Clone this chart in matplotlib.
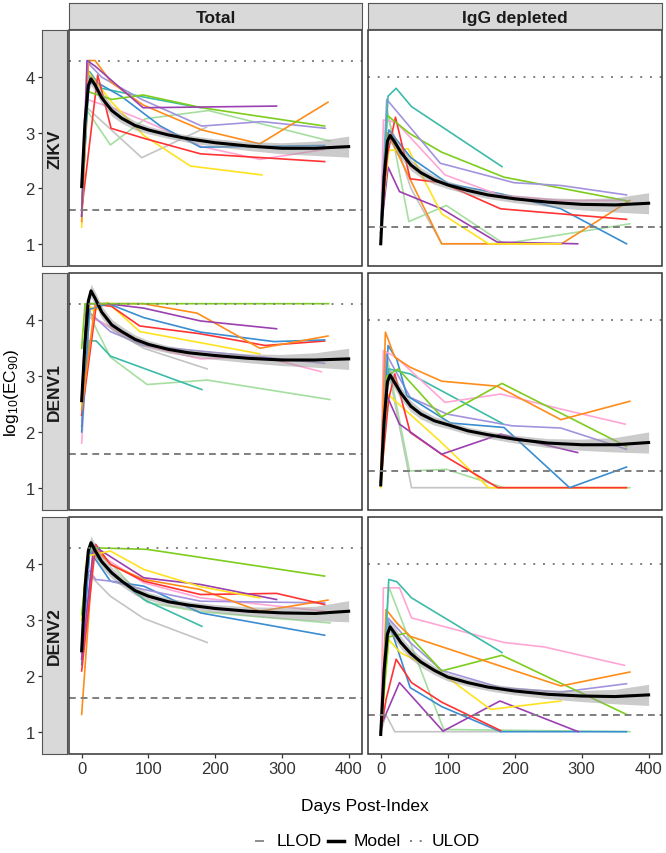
import numpy as np
import matplotlib
matplotlib.use('Agg')
from matplotlib import pyplot as plt
from matplotlib.patches import Rectangle
from matplotlib.lines import Line2D

plt.rcParams['font.family'] = ['Liberation Sans', 'DejaVu Sans']
plt.rcParams['mathtext.default'] = 'regular'

RED = '#FF3333'
BLUE = '#3A8DD0'
GREEN = '#7CCD1C'
PURPLE = '#9A40B0'
ORANGE = '#FF8C1A'
YELLOW = '#FFE21F'
PINK = '#FFA6D5'
GREY = '#C4C4C4'
TEAL = '#3CBBA8'
LTGREEN = '#A6DEA0'
LAVENDER = '#A293DE'

# (colour, days, log10 EC90) per subject
zikv_total = [
    (GREY, [0, 8, 90, 187], [1.5, 3.45, 2.55, 3.1]),
    (LTGREEN, [0, 8, 43, 95, 190, 372], [1.5, 3.4, 2.78, 3.25, 3.4, 2.85]),
    (PINK, [0, 8, 45, 93, 180, 267, 364], [1.6, 3.6, 3.45, 3.22, 2.75, 2.52, 2.7]),
    (TEAL, [0, 12, 30, 90, 178], [1.7, 4.1, 3.8, 3.65, 3.45]),
    (BLUE, [0, 10, 28, 60, 118, 178, 364], [1.6, 3.9, 3.87, 3.65, 3.12, 2.74, 2.77]),
    (YELLOW, [0, 9, 45, 93, 163, 270], [1.3, 4.1, 3.55, 2.95, 2.4, 2.24]),
    (RED, [0, 24, 44, 93, 178, 364], [1.6, 4.04, 3.08, 2.9, 2.62, 2.48]),
    (LAVENDER, [0, 10, 30, 90, 180, 270, 365], [1.5, 4.25, 4.0, 3.6, 3.12, 3.2, 3.08]),
    (ORANGE, [0, 10, 20, 45, 92, 180, 267, 369], [1.4, 4.3, 4.3, 3.9, 3.5, 3.05, 2.8, 3.55]),
    (GREEN, [0, 7, 45, 92, 180, 364], [1.5, 3.75, 3.6, 3.68, 3.45, 3.12]),
    (PURPLE, [0, 8, 20, 92, 292], [1.5, 4.3, 4.2, 3.45, 3.48]),
]

zikv_depl = [
    (GREY, [0, 10, 45, 91, 180], [1.2, 3.3, 2.0, 1.0, 1.0]),
    (LTGREEN, [0, 10, 42, 98, 184, 372], [1.2, 3.4, 1.4, 1.69, 1.0, 1.36]),
    (ORANGE, [0, 10, 91, 270, 372], [1.3, 3.0, 1.0, 1.0, 1.78]),
    (PURPLE, [0, 11, 28, 91, 174, 294], [1.2, 2.38, 1.94, 1.63, 1.03, 1.0]),
    (YELLOW, [0, 12, 41, 91, 161, 269], [1.3, 2.68, 2.71, 1.54, 1.0, 1.0]),
    (BLUE, [0, 12, 45, 101, 179, 269, 367], [1.2, 3.05, 2.55, 2.08, 1.9, 1.63, 1.0]),
    (PINK, [0, 4, 23, 96, 179, 269, 365], [1.3, 3.23, 3.19, 2.24, 1.87, 1.78, 1.78]),
    (RED, [0, 10, 22, 44, 91, 179, 367], [1.3, 2.6, 3.28, 2.17, 2.1, 1.63, 1.44]),
    (GREEN, [0, 9, 44, 91, 184, 369], [1.2, 3.32, 2.98, 2.65, 2.2, 1.77]),
    (LAVENDER, [0, 9, 89, 199, 269, 367], [1.3, 3.6, 2.45, 2.1, 2.05, 1.88]),
    (TEAL, [0, 11, 23, 46, 181], [1.3, 3.66, 3.8, 3.47, 2.39]),
]

denv1_total = [
    (GREY, [0, 11, 45, 93, 188], [2.2, 4.1, 3.85, 3.5, 3.13]),
    (LTGREEN, [0, 8, 23, 43, 98, 188, 372], [2.4, 4.2, 3.82, 3.34, 2.85, 2.93, 2.58]),
    (TEAL, [0, 11, 22, 43, 180], [2.3, 3.64, 3.63, 3.36, 2.76]),
    (PINK, [0, 11, 30, 93, 178, 270, 359], [1.8, 4.06, 3.97, 3.55, 3.31, 3.35, 3.08]),
    (LAVENDER, [0, 11, 43, 93, 178, 364], [2.1, 4.15, 3.8, 3.55, 3.45, 3.23]),
    (YELLOW, [0, 13, 18, 39, 87, 178, 267], [2.5, 4.25, 4.17, 4.32, 3.8, 3.6, 3.4]),
    (RED, [0, 22, 45, 87, 178, 275, 364], [2.3, 4.29, 4.25, 3.9, 3.76, 3.55, 3.63]),
    (BLUE, [0, 12, 40, 93, 178, 288, 364], [2.0, 4.2, 4.3, 4.05, 3.79, 3.62, 3.65]),
    (ORANGE, [0, 20, 92, 173, 267, 369], [2.4, 4.3, 4.3, 4.13, 3.5, 3.72]),
    (PURPLE, [0, 7, 38, 93, 178, 292], [2.6, 4.3, 4.3, 4.22, 3.99, 3.85]),
    (GREEN, [0, 5, 45, 90, 180, 270, 370], [3.5, 4.3, 4.3, 4.3, 4.3, 4.3, 4.3]),
]

denv1_depl = [
    (GREY, [0, 10, 46, 184], [1.1, 3.2, 1.0, 1.0]),
    (LTGREEN, [0, 10, 43, 98, 184, 372], [1.1, 3.3, 1.3, 1.33, 1.0, 1.0]),
    (YELLOW, [0, 11, 88, 161, 269, 367], [1.0, 2.67, 1.84, 1.0, 1.0, 1.0]),
    (RED, [0, 12, 21, 44, 91, 175, 269, 367], [1.1, 2.6, 3.04, 1.99, 1.6, 1.0, 1.0, 1.0]),
    (PURPLE, [0, 7, 28, 91, 179, 294], [1.1, 2.71, 2.14, 1.6, 1.96, 1.63]),
    (LAVENDER, [0, 8, 44, 99, 196, 269, 367], [1.1, 3.4, 2.62, 2.32, 2.11, 2.07, 1.69]),
    (TEAL, [0, 12, 44, 182], [1.1, 3.13, 3.04, 2.15]),
    (BLUE, [0, 11, 24, 39, 104, 184, 282, 367], [1.1, 3.55, 3.3, 2.65, 2.16, 2.08, 1.0, 1.37]),
    (PINK, [0, 4, 22, 96, 179, 269, 365], [1.1, 3.46, 3.35, 2.53, 2.68, 2.41, 2.14]),
    (GREEN, [0, 9, 26, 91, 181, 367], [1.1, 3.0, 3.13, 2.27, 2.87, 1.74]),
    (ORANGE, [0, 7, 21, 44, 91, 174, 269, 372], [1.1, 3.79, 3.34, 3.16, 2.91, 2.82, 2.22, 2.55]),
]

denv2_total = [
    (GREY, [0, 6, 43, 93, 188], [2.5, 3.88, 3.43, 3.03, 2.6]),
    (LTGREEN, [0, 12, 43, 98, 178, 372], [2.5, 4.3, 4.03, 3.32, 3.15, 2.95]),
    (TEAL, [0, 12, 43, 93, 180], [2.4, 4.27, 3.85, 3.37, 2.89]),
    (BLUE, [0, 12, 43, 93, 178, 364], [2.2, 4.24, 3.7, 3.61, 3.13, 2.73]),
    (PINK, [0, 18, 93, 178, 364], [2.4, 4.24, 3.67, 3.4, 3.16]),
    (LAVENDER, [0, 6, 21, 43, 93, 178, 364], [2.3, 3.97, 3.73, 3.7, 3.55, 3.34, 3.31]),
    (ORANGE, [0, 18, 43, 93, 178, 267, 369], [1.31, 4.33, 4.0, 3.73, 3.55, 3.16, 3.36]),
    (RED, [0, 21, 43, 93, 178, 292, 364], [2.09, 4.36, 4.0, 3.7, 3.46, 3.48, 3.28]),
    (PURPLE, [0, 18, 93, 178, 292], [2.3, 4.33, 3.76, 3.64, 3.37]),
    (YELLOW, [0, 8, 43, 93, 178, 267], [3.0, 4.15, 4.24, 3.91, 3.6, 3.4]),
    (GREEN, [0, 11, 98, 364], [3.1, 4.3, 4.27, 3.79]),
]

denv2_depl = [
    (GREY, [0, 8, 21, 179], [1.0, 1.3, 1.0, 1.0]),
    (LTGREEN, [0, 12, 94, 372], [1.0, 3.6, 1.04, 1.0]),
    (BLUE, [0, 11, 44, 91, 179, 367], [1.0, 3.0, 1.79, 1.45, 1.0, 1.0]),
    (PURPLE, [0, 28, 93, 178, 295], [1.1, 1.88, 1.01, 1.55, 1.0]),
    (RED, [0, 8, 23, 46, 91, 179], [1.0, 1.58, 2.3, 1.88, 1.53, 1.02]),
    (YELLOW, [0, 12, 29, 91, 164, 269], [1.0, 2.65, 2.42, 2.05, 1.4, 1.55]),
    (LAVENDER, [0, 11, 44, 91, 179, 269, 367], [1.0, 3.04, 2.6, 2.1, 1.79, 1.71, 1.86]),
    (GREEN, [0, 12, 24, 39, 91, 181, 367], [1.0, 2.7, 2.73, 2.77, 2.09, 2.37, 1.31]),
    (ORANGE, [0, 8, 24, 44, 269, 372], [1.0, 3.19, 2.95, 2.71, 1.82, 2.07]),
    (PINK, [0, 4, 28, 46, 184, 244, 364], [1.0, 3.58, 3.58, 3.04, 2.6, 2.52, 2.19]),
    (TEAL, [0, 12, 24, 46, 181], [1.0, 3.73, 3.69, 3.4, 2.42]),
]

# model fit + confidence band
model_days = [0, 5, 10, 14, 20, 30, 45, 60, 80, 100, 130, 160, 200, 250, 300, 350, 400]
zikv_total_fit = [2.03, 3.2, 3.85, 3.97, 3.86, 3.63, 3.4, 3.26, 3.13, 3.05, 2.96, 2.89, 2.82, 2.76, 2.72, 2.72, 2.75]
zikv_depl_fit = [1.0, 2.2, 2.85, 2.95, 2.85, 2.65, 2.42, 2.28, 2.15, 2.06, 1.96, 1.88, 1.81, 1.75, 1.71, 1.70, 1.73]
denv1_total_fit = [2.56, 3.6, 4.35, 4.53, 4.4, 4.15, 3.92, 3.8, 3.66, 3.57, 3.48, 3.42, 3.37, 3.32, 3.29, 3.29, 3.31]
denv1_depl_fit = [1.05, 2.2, 2.9, 3.02, 2.9, 2.7, 2.46, 2.32, 2.2, 2.13, 2.02, 1.95, 1.87, 1.8, 1.77, 1.77, 1.81]
denv2_total_fit = [2.45, 3.6, 4.25, 4.39, 4.25, 4.05, 3.85, 3.7, 3.53, 3.43, 3.33, 3.27, 3.21, 3.16, 3.13, 3.12, 3.16]
denv2_depl_fit = [0.95, 2.1, 2.75, 2.88, 2.78, 2.6, 2.4, 2.25, 2.1, 1.98, 1.88, 1.8, 1.73, 1.67, 1.64, 1.63, 1.66]
band_half = [0.0, 0.06, 0.1, 0.12, 0.12, 0.11, 0.1, 0.09, 0.08, 0.07, 0.065, 0.065, 0.07, 0.08, 0.1, 0.13, 0.19]

viruses = ['ZIKV', 'DENV1', 'DENV2']
sample_types = ['Total', 'IgG depleted']
ulod = [4.3, 4.0]
llod = [1.6, 1.3]
panel_lines = [[zikv_total, zikv_depl], [denv1_total, denv1_depl], [denv2_total, denv2_depl]]
panel_fits = [[zikv_total_fit, zikv_depl_fit], [denv1_total_fit, denv1_depl_fit], [denv2_total_fit, denv2_depl_fit]]

W, H = 666, 854
cols = [(69, 362), (368, 662)]
rows = [(31, 267), (274, 511), (518, 755)]
EDGE = '#333333'
REF = '#7F7F7F'


def box(x0, y0, x1, y1):
    return [x0 / W, 1 - y1 / H, (x1 - x0) / W, (y1 - y0) / H]


fig = plt.figure(figsize=(W / 100, H / 100), dpi=100)

for r in range(3):
    for c in range(2):
        ax = fig.add_axes(box(cols[c][0], rows[r][0], cols[c][1], rows[r][1]))
        for color, d, v in panel_lines[r][c]:
            ax.plot(d, v, color=color, lw=1.2, zorder=2, solid_joinstyle='round')
        fit = np.array(panel_fits[r][c])
        half = np.array(band_half)
        ax.fill_between(model_days, fit - half, fit + half, color='#999999', alpha=0.5, lw=0, zorder=3)
        ax.plot(model_days, fit, color='black', lw=2.2, zorder=4)
        ax.axhline(ulod[c], color=REF, lw=1.4, ls=(0, (1, 4)), zorder=5)
        ax.axhline(llod[c], color=REF, lw=1.4, ls=(0, (3.5, 2.5)), zorder=5)
        ax.set_xlim(-19, 420)
        ax.set_ylim(0.6, 4.85)
        ax.set_xticks([0, 100, 200, 300, 400])
        ax.set_yticks([1, 2, 3, 4])
        for sp in ax.spines.values():
            sp.set_color('none')
        ax.spines['left'].set_position(('outward', 19.5))
        ax.add_patch(Rectangle((0, 0), 1, 1, transform=ax.transAxes, fill=False,
                               ec=EDGE, lw=1.1, zorder=10, clip_on=False))
        ax.tick_params(axis='both', length=3, width=0.9, color=EDGE,
                       labelsize=12, labelcolor='#333333', pad=2)
        if c > 0:
            ax.tick_params(axis='y', left=False, labelleft=False)
        if r < 2:
            ax.tick_params(axis='x', bottom=False, labelbottom=False)

        # strips
        if r == 0:
            sax = fig.add_axes(box(cols[c][0], 4, cols[c][1], 30))
            sax.set_facecolor('#D9D9D9')
            sax.set_xticks([])
            sax.set_yticks([])
            for sp in sax.spines.values():
                sp.set_color('#555555')
            sax.text(0.5, 0.45, sample_types[c], transform=sax.transAxes, ha='center', va='center',
                     fontsize=12.5, fontweight='bold', color='#1a1a1a')
        if c == 0:
            sax = fig.add_axes(box(42, rows[r][0], 67, rows[r][1]))
            sax.set_facecolor('#D9D9D9')
            sax.set_xticks([])
            sax.set_yticks([])
            for sp in sax.spines.values():
                sp.set_color('#555555')
            sax.text(0.5, 0.5, viruses[r], transform=sax.transAxes, ha='center', va='center',
                     rotation=90, fontsize=12.5, fontweight='bold', color='#1a1a1a')

fig.text(12 / W, 1 - 393 / H, 'log$_{10}$(EC$_{90}$)', rotation=90, ha='center', va='center', fontsize=12.5)
fig.text(365 / W, 1 - 807 / H, 'Days Post-Index', ha='center', va='center', fontsize=12.5)

# legend, drawn by hand so the keys look like ggplot's
ly = 1 - 842 / H
fig.add_artist(Line2D([256 / W, 263 / W], [ly, ly], color='#8C8C8C', lw=1.4))
fig.text(277 / W, ly, 'LLOD', ha='left', va='center', fontsize=12.5)
fig.add_artist(Line2D([328 / W, 344 / W], [ly, ly], color='black', lw=2.5))
fig.text(354 / W, ly, 'Model', ha='left', va='center', fontsize=12.5)
fig.add_artist(Line2D([410 / W, 422 / W], [ly, ly], color=REF, lw=1.4, ls=(0, (1, 4))))
fig.text(432 / W, ly, 'ULOD', ha='left', va='center', fontsize=12.5)

plt.savefig('out.png', dpi=100)
plt.close()
